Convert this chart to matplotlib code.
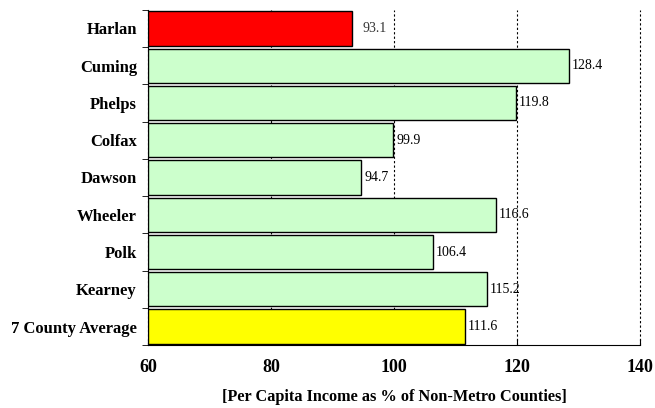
import matplotlib.pyplot as plt

counties = ["Harlan", "Cuming", "Phelps", "Colfax", "Dawson",
            "Wheeler", "Polk", "Kearney", "7 County Average"]
income_pct = [93.1, 128.4, 119.8, 99.9, 94.7, 116.6, 106.4, 115.2, 111.6]
bar_colors = ["#FF0000"] + ["#CCFFCC"] * 7 + ["#FFFF00"]
xticks = [60, 80, 100, 120, 140]

plt.rcParams["font.family"] = ["Liberation Serif", "DejaVu Serif"]

fig = plt.figure(figsize=(6.55, 4.08), dpi=100)
ax = fig.add_axes([0.226, 0.154, 0.751, 0.822])

ypos = list(range(len(counties)))
xmin = xticks[0]
ax.barh(ypos, [v - xmin for v in income_pct], left=xmin, height=0.92,
        color=bar_colors, edgecolor="black", linewidth=1.0, zorder=3)

for y, v in zip(ypos, income_pct):
    off = 8 if y == 0 else 2
    ax.annotate(f"{v:.1f}", xy=(v, y), xytext=(off, 0), textcoords="offset points",
                va="center", ha="left", fontsize=10,
                color="#333333" if y == 0 else "black", zorder=4)

ax.set_xlim(60, 140)
ax.set_ylim(len(counties) - 0.5, -0.5)
ax.set_xticks(xticks)
ax.set_xticklabels([str(t) for t in xticks], fontsize=13, fontweight="bold")
ax.set_yticks(ypos)
ax.set_yticklabels(counties, fontsize=12, fontweight="bold")
ax.tick_params(axis="y", length=0, pad=8)
ax.set_yticks([y + 0.5 for y in range(-1, len(counties))], minor=True)
ax.tick_params(axis="y", which="minor", length=4, direction="out")
ax.tick_params(axis="x", length=4, direction="in", pad=10)

ax.xaxis.grid(True, linestyle=(0, (2, 2)), color="black", linewidth=0.8, zorder=0)
for gl in ax.get_xgridlines():
    gl.set_clip_on(False)
ax.spines["top"].set_visible(False)
ax.spines["right"].set_visible(False)

ax.set_xlabel("[Per Capita Income as % of Non-Metro Counties]", fontsize=11.7,
              fontweight="bold", labelpad=9)

fig.savefig("out.png", dpi=100)
